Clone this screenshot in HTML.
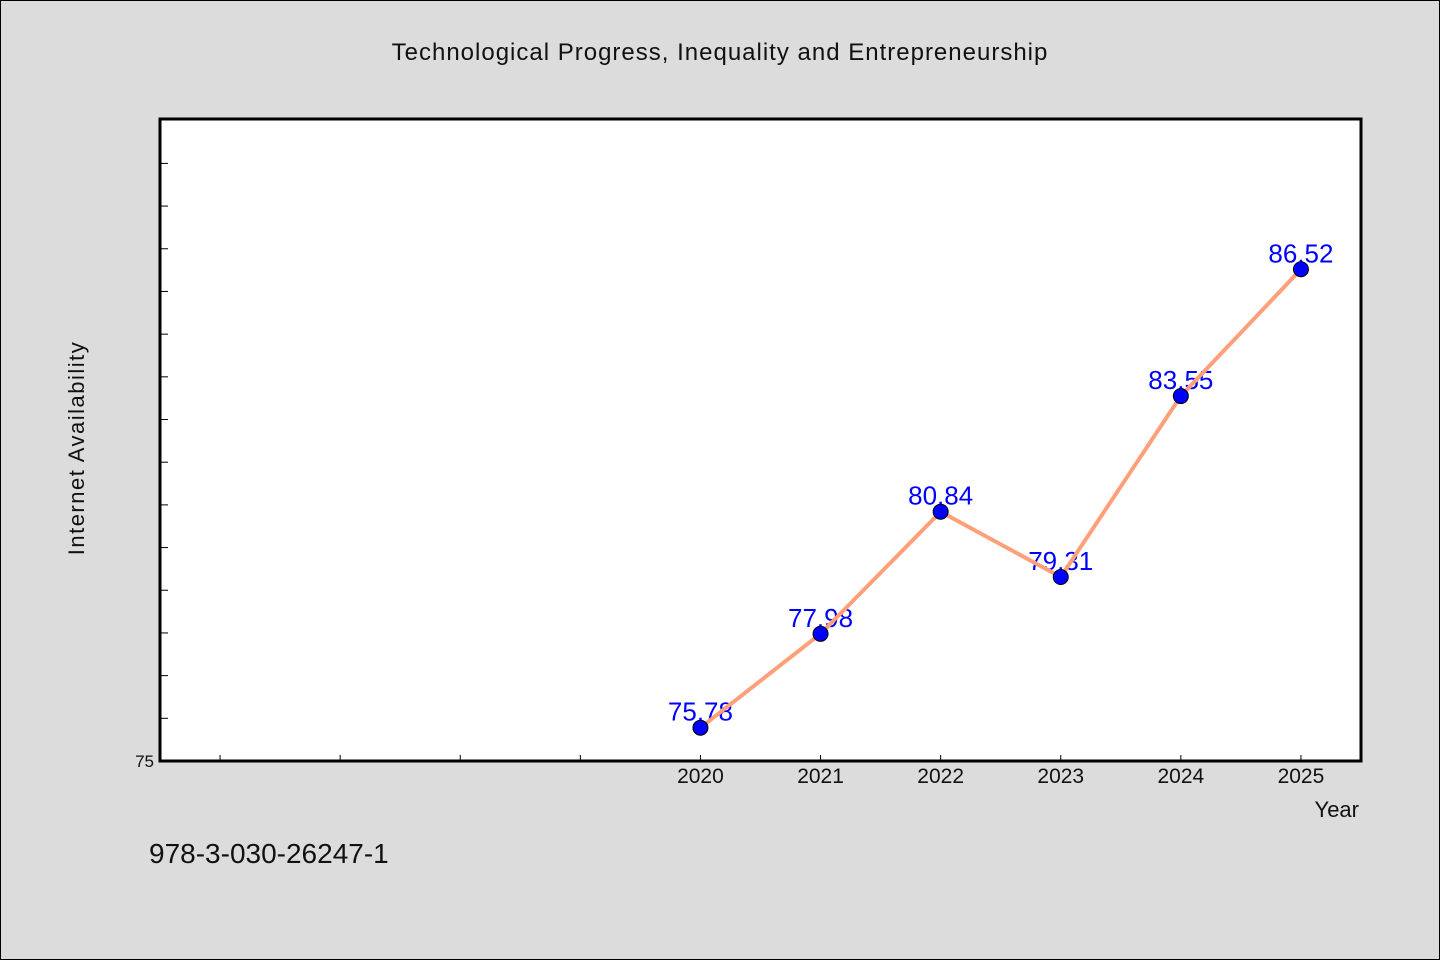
<!DOCTYPE html>
<html><head><meta charset="utf-8"><style>
html,body{margin:0;padding:0;background:#dcdcdc;}
svg{display:block;}
text{font-family:"WenQuanYi Zen Hei","Liberation Sans",sans-serif;}
</style></head><body>
<svg id="chart" width="1440" height="960" xmlns="http://www.w3.org/2000/svg">
<rect x="0.5" y="0.5" width="1439" height="959" fill="#dcdcdc" stroke="#000" stroke-width="1"/>
<text x="720" y="60" font-size="24" text-anchor="middle" fill="#111" letter-spacing="1">Technological Progress, Inequality and Entrepreneurship</text>
<rect x="160" y="119" width="1201" height="642" fill="#fff"/>
<g id="ticks"></g>
<g id="labels"></g>
<g id="series"></g>
<path d="M160,119 H1361 V761 H160 Z" fill="none" stroke="#000" stroke-width="3"/>
<text transform="translate(84,448) rotate(-90)" font-size="22" text-anchor="middle" fill="#111" letter-spacing="1.5">Internet Availability</text>
<text x="1359" y="817" font-size="22" text-anchor="end" fill="#111">Year</text>
<text x="149" y="863" font-size="28" fill="#111">978-3-030-26247-1</text>
</svg>
<script>
const years = [2020, 2021, 2022, 2023, 2024, 2025];
const values = [75.78, 77.98, 80.84, 79.31, 83.55, 86.52];
const yTicks = [75,76,77,78,79,80,81,82,83,84,85,86,87,88,89];
const yTickLabels = ["75"];
const xMinorTicks = [2016, 2017, 2018, 2019];
const NS = "http://www.w3.org/2000/svg";
const L=160,R=1361,T=119,B=761, xMin=2015.5, xMax=2025.5, yMin=75, yMax=90.04;
function xs(v){return L+(v-xMin)/(xMax-xMin)*(R-L);}
function ys(v){return B-(v-yMin)/(yMax-yMin)*(B-T);}
function mk(tag,attrs,parent){const e=document.createElementNS(NS,tag);for(const k in attrs)e.setAttribute(k,attrs[k]);parent.appendChild(e);return e;}
const tg=document.getElementById('ticks'), lg=document.getElementById('labels'), sg=document.getElementById('series');
yTicks.forEach(v=>{const y=ys(v);
 const t=mk('line',{x1:L,x2:L+8,y1:y,y2:y,stroke:'#000','stroke-width':1},tg);
 
 
});
yTickLabels.forEach(s=>{const t=mk('text',{x:L-6,y:ys(+s)+6,'font-size':17,'text-anchor':'end',fill:'#111'},tg);t.textContent=s;
 
 
});
xMinorTicks.concat(years).forEach(v=>{const x=xs(v);
 const t=mk('line',{x1:x,x2:x,y1:B,y2:B-6,stroke:'#000','stroke-width':1},tg);
 
 
});
years.forEach(v=>{const t=mk('text',{x:xs(v),y:B+22,'font-size':21,'text-anchor':'middle',fill:'#111'},tg);t.textContent=String(v);
 
 
});
values.forEach((v,i)=>{const t=mk('text',{x:xs(years[i]),y:ys(v)-7,'font-size':26,'text-anchor':'middle',fill:'#0000ff'},lg);t.textContent=v.toFixed(2);
 
 
});
const pl=mk('polyline',{points:values.map((v,i)=>xs(years[i])+','+ys(v)).join(' '),fill:'none',stroke:'#ffa07a','stroke-width':4},sg);


values.forEach((v,i)=>{const c=mk('circle',{cx:xs(years[i]),cy:ys(v),r:7.5,fill:'#0000ff',stroke:'#000','stroke-width':1},sg);
 
 
});
</script>
</body></html>
